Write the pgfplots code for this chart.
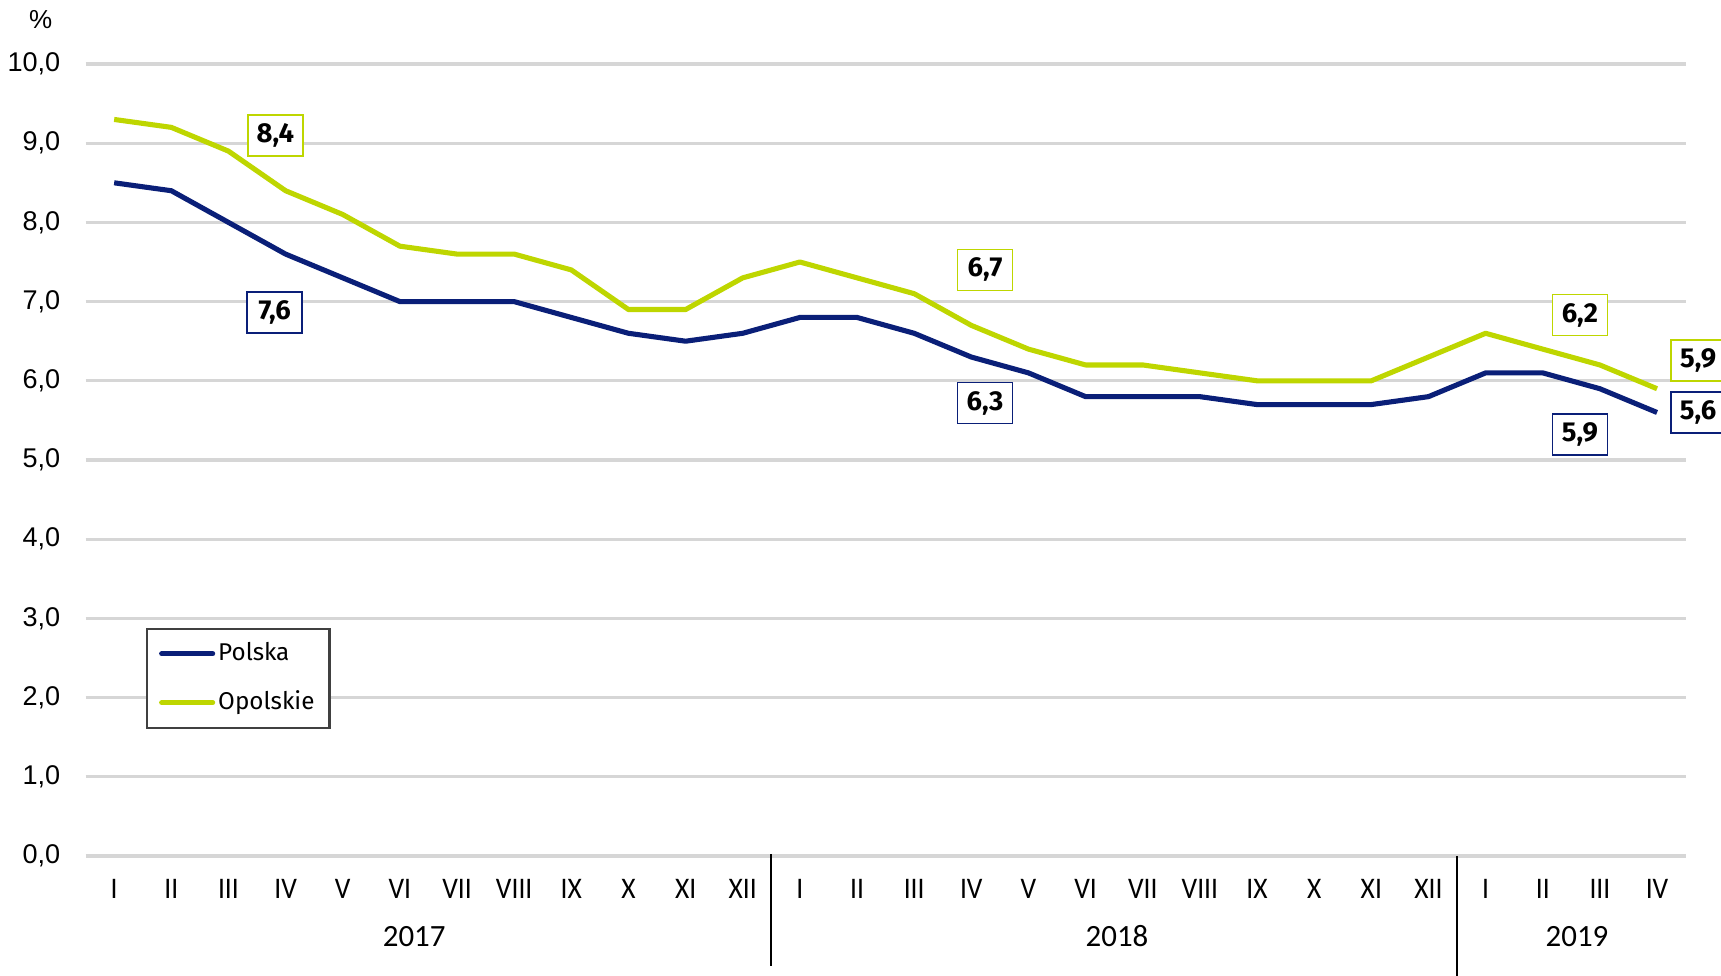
\documentclass[border=0pt]{standalone}
\usepackage{fontspec}
\usepackage{pgfplots}
\pgfplotsset{compat=1.18}
\setmainfont{Fira Sans}
\newfontfamily\arial{Liberation Sans}
\newfontfamily\fira{Fira Sans}
\newfontfamily\cond[FakeStretch=0.92]{Carlito}
\newfontfamily\carl{Carlito}
\definecolor{PNavy}{HTML}{0A1F78}
\definecolor{OLime}{HTML}{BED600}

\begin{document}
\begin{tikzpicture}
\useasboundingbox (-8.56mm,-11.9mm) rectangle (163.54mm,85.6mm);
\begin{axis}[
  scale only axis,
  width=160mm, height=79.2mm,
  xmin=-0.5, xmax=27.5, ymin=0, ymax=10,
  xtick={0,...,27},
  xticklabels={I,II,III,IV,V,VI,VII,VIII,IX,X,XI,XII,I,II,III,IV,V,VI,VII,VIII,IX,X,XI,XII,I,II,III,IV},
  ytick={0,1,...,10},
  /pgf/number format/fixed,
  /pgf/number format/fixed zerofill,
  /pgf/number format/precision=1,
  /pgf/number format/use comma,
  /pgf/number format/assume math mode=true,
  yticklabel style={font=\arial\fontsize{7.7}{9}\selectfont, anchor=east, xshift=-1.3mm},
  xticklabel style={font=\cond\fontsize{8.5}{10}\selectfont, anchor=base, yshift=-4.25mm},
  major tick length=0pt,
  tick style={draw=none},
  axis line style={draw=none},
  ymajorgrids,
  grid style={draw=black!16, line width=0.9pt},
  clip=false,
  legend cell align=left,
  legend style={at={(0.0378,0.288)}, anchor=north west, draw=black!75, line width=0.6pt,
    font=\fira\fontsize{6.9}{8}\selectfont, row sep=1.1mm, inner xsep=1.2mm, inner ysep=0.6mm,
    nodes={inner xsep=0.3mm}},
  legend image code/.code={\draw[#1,line cap=round] (0mm,0mm) -- (5.1mm,0mm);},
]
\addplot[PNavy, line width=1.45pt, line join=round] coordinates {
  (0,8.5) (1,8.4) (2,8.0) (3,7.6) (4,7.3) (5,7.0) (6,7.0) (7,7.0) (8,6.8) (9,6.6) (10,6.5) (11,6.6)
  (12,6.8) (13,6.8) (14,6.6) (15,6.3) (16,6.1) (17,5.8) (18,5.8) (19,5.8) (20,5.7) (21,5.7) (22,5.7) (23,5.8)
  (24,6.1) (25,6.1) (26,5.9) (27,5.6)};
\addlegendentry{Polska}
\addplot[OLime, line width=1.45pt, line join=round] coordinates {
  (0,9.3) (1,9.2) (2,8.9) (3,8.4) (4,8.1) (5,7.7) (6,7.6) (7,7.6) (8,7.4) (9,6.9) (10,6.9) (11,7.3)
  (12,7.5) (13,7.3) (14,7.1) (15,6.7) (16,6.4) (17,6.2) (18,6.2) (19,6.1) (20,6.0) (21,6.0) (22,6.0) (23,6.3)
  (24,6.6) (25,6.4) (26,6.2) (27,5.9)};
\addlegendentry{Opolskie}

\tikzset{lab/.style={fill=white, line width=0.5pt, minimum width=5.5mm, minimum height=4.1mm, inner sep=0pt,
  font=\fira\bfseries\fontsize{7.8}{9}\selectfont}}
\node[lab, draw=OLime] at (axis cs:2.82,9.10) {8,4};
\node[lab, draw=PNavy] at (axis cs:2.81,6.86) {7,6};
\node[lab, draw=OLime] at (axis cs:15.24,7.40) {6,7};
\node[lab, draw=PNavy] at (axis cs:15.24,5.72) {6,3};
\node[lab, draw=OLime] at (axis cs:25.65,6.83) {6,2};
\node[lab, draw=PNavy] at (axis cs:25.65,5.32) {5,9};
\node[lab, draw=OLime] at (axis cs:27.72,6.26) {5,9};
\node[lab, draw=PNavy] at (axis cs:27.72,5.60) {5,6};

\draw[black, line width=0.6pt] ([yshift=0.2mm]axis cs:11.5,0) -- ([yshift=-11mm]axis cs:11.5,0);
\draw[black, line width=0.6pt] (axis cs:23.5,0) -- ([yshift=-13mm]axis cs:23.5,0);

\tikzset{yr/.style={anchor=base, font=\carl\fontsize{8.8}{10}\selectfont}}
\node[yr] at ([yshift=-9mm]axis cs:5.25,0) {2017};
\node[yr] at ([yshift=-9mm]axis cs:17.55,0) {2018};
\node[yr] at ([yshift=-9mm]axis cs:25.6,0) {2019};
\end{axis}
\node[font=\arial\fontsize{7.4}{9}\selectfont] at (-4.5mm,83.6mm) {\%};
\end{tikzpicture}
\end{document}
